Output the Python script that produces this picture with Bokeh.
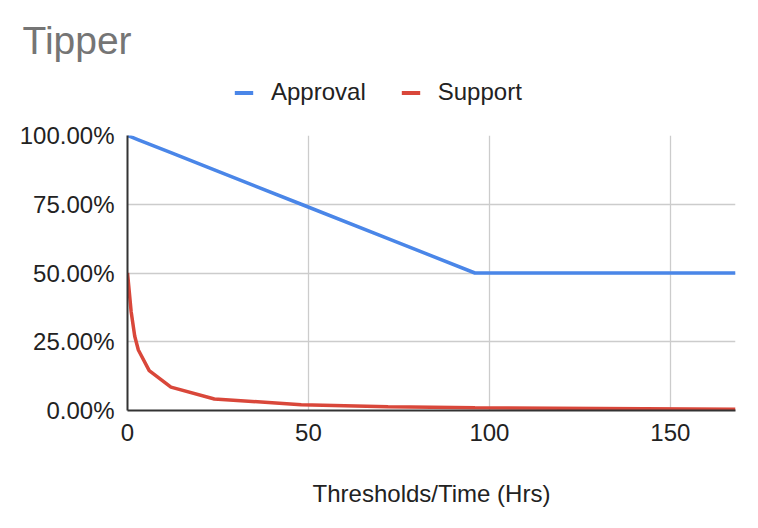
from bokeh.plotting import figure
from bokeh.layouts import column
from bokeh.models import (Range1d, FixedTicker, NumeralTickFormatter, Legend, LegendItem, Label)
from bokeh.embed import file_html
from bokeh.resources import INLINE

# Data
hours = [0, 1, 2, 3, 6, 12, 24, 48, 72, 96, 168]
approval = [1.0, 0.9948, 0.9896, 0.9844, 0.9688, 0.9375, 0.875, 0.75, 0.625, 0.50, 0.50]
support = [0.50, 0.36, 0.27, 0.22, 0.145, 0.085, 0.042, 0.021, 0.014, 0.010, 0.005]
x_ticks = [0, 50, 100, 150]
y_ticks = [0, 0.25, 0.5, 0.75, 1.0]
series_names = ["Approval", "Support"]
colors = ["#4a86e8", "#d9473a"]
chart_title = "Tipper"
x_label = "Thresholds/Time (Hrs)"

FONT = "Liberation Sans"

# ---- header (title + legend) ----
head = figure(width=758, height=120, x_range=Range1d(0, 1), y_range=Range1d(0, 1),
              x_axis_type=None, y_axis_type=None, toolbar_location=None,
              output_backend="svg", min_border=0)
head.outline_line_color = None
head.grid.visible = False

# ---- chart ----
p = figure(width=758, height=408, x_range=Range1d(0, 168), y_range=Range1d(0, 1),
           toolbar_location=None, output_backend="svg",
           min_border_left=127, min_border_right=23, min_border_top=15, min_border_bottom=118)
p.outline_line_color = None

# do not align the header's frame with the chart's frame
try:
    head.frame_align = False
    p.frame_align = False
    off = 0
except Exception:
    off = 127

# zero-size rects: invisible in the header, used only as legend swatches
sw0 = head.rect(x=hours, y=approval, width=0, height=0, fill_color=colors[0], line_color=None)
sw1 = head.rect(x=hours, y=support, width=0, height=0, fill_color=colors[1], line_color=None)
legend = Legend(items=[LegendItem(label=series_names[0], renderers=[sw0]),
                       LegendItem(label=series_names[1], renderers=[sw1])],
                orientation="horizontal", location=(232 - off, 14),
                glyph_width=23, glyph_height=5, label_standoff=16, spacing=33,
                label_text_font=FONT, label_text_font_size="24px", label_text_color="#222222",
                border_line_color=None, background_fill_alpha=0, padding=0, margin=0)
head.add_layout(legend)

title = Label(x=max(22 - off, 0), y=80, x_units="screen", y_units="screen", text=chart_title,
              text_font=FONT, text_font_size="39px", text_color="#757575",
              text_baseline="alphabetic")
head.add_layout(title)

p.xgrid.ticker = FixedTicker(ticks=x_ticks)
p.ygrid.ticker = FixedTicker(ticks=y_ticks)
for g in (p.xgrid, p.ygrid):
    g.grid_line_color = "#cccccc"
    g.grid_line_width = 1.3

p.xaxis.ticker = FixedTicker(ticks=x_ticks)
p.yaxis.ticker = FixedTicker(ticks=y_ticks)
p.yaxis.formatter = NumeralTickFormatter(format="0.00%")
for ax in (p.xaxis[0], p.yaxis[0]):
    ax.axis_line_color = "#333333"
    ax.axis_line_width = 2
    ax.major_tick_line_color = None
    ax.minor_tick_line_color = None
    ax.major_label_text_font = FONT
    ax.major_label_text_font_size = "24px"
    ax.major_label_text_color = "#222222"
p.yaxis.major_label_standoff = 7
p.xaxis.major_label_standoff = 7
p.xaxis.axis_label = x_label
p.xaxis.axis_label_text_font = FONT
p.xaxis.axis_label_text_font_size = "24px"
p.xaxis.axis_label_text_font_style = "normal"
p.xaxis.axis_label_text_color = "#222222"
p.xaxis.axis_label_standoff = 36

p.line(hours, approval, line_color=colors[0], line_width=3.5)
p.line(hours, support, line_color=colors[1], line_width=3.5)

layout = column(head, p, spacing=0)
open("out.html", "w").write(file_html(layout, INLINE))
